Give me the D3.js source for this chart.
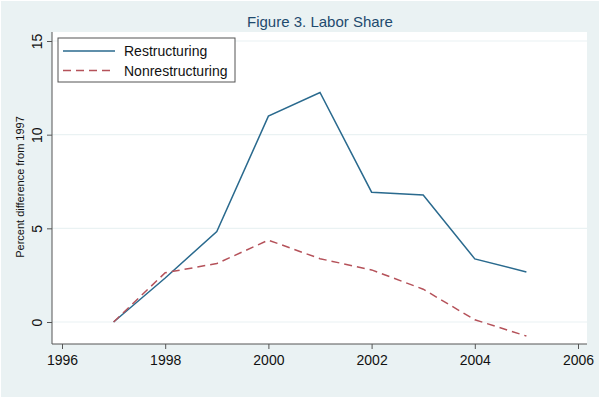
<!DOCTYPE html>
<html>
<head>
<meta charset="utf-8">
<script src="https://cdn.jsdelivr.net/npm/d3@7"></script>
<style>
  body { margin: 0; background: #ffffff; }
  text { font-family: "Liberation Sans", Arial, sans-serif; }
</style>
</head>
<body>
<script>
// data
var years = [1997, 1998, 1999, 2000, 2001, 2002, 2003, 2004, 2005];
var restructuring = [0, 2.35, 4.83, 10.99, 12.25, 6.93, 6.78, 3.37, 2.67];
var nonrestructuring = [0, 2.63, 3.12, 4.37, 3.38, 2.78, 1.75, 0.12, -0.75];
var xTicks = [1996, 1998, 2000, 2002, 2004, 2006];
var yTicks = [0, 5, 10, 15];
var seriesNames = ["Restructuring", "Nonrestructuring"];

var width = 600,
    height = 399;

var svg = d3.select("body")
    .append("svg")
    .attr("width", width)
    .attr("height", height);

// outer graph region
svg.append("rect")
    .attr("x", 1).attr("y", 1)
    .attr("width", width - 2).attr("height", height - 3)
    .attr("fill", "#eaf2f3");

var plot = {left: 52, right: 587, top: 32, bottom: 344};

var x = d3.scaleLinear().domain([1996, 2006]).range([62, 578]);
var y = d3.scaleLinear().domain([0, 15]).range([322, 41]);

// plot region
svg.append("rect")
    .attr("x", plot.left).attr("y", plot.top)
    .attr("width", plot.right - plot.left)
    .attr("height", plot.bottom - plot.top)
    .attr("fill", "#ffffff");

// gridlines
svg.selectAll(".grid")
    .data(yTicks)
    .enter()
    .append("line")
    .attr("class", "grid")
    .attr("x1", plot.left).attr("x2", plot.right)
    .attr("y1", function(d){ return y(d); })
    .attr("y2", function(d){ return y(d); })
    .attr("stroke", "#eaf2f3")
    .attr("stroke-width", 1.2);

// axes
var yAxis = svg.append("g")
    .attr("transform", "translate(" + plot.left + ",0)")
    .call(d3.axisLeft(y).tickValues(yTicks).tickSize(5).tickPadding(7));
yAxis.select(".domain").remove();
yAxis.selectAll(".tick line").attr("stroke", "#555");
yAxis.selectAll(".tick text")
    .attr("transform", "rotate(-90)")
    .attr("x", 0).attr("y", -10)
    .attr("dy", 0)
    .attr("text-anchor", "middle")
    .attr("font-size", 14)
    .attr("fill", "#111");

var xAxis = svg.append("g")
    .attr("transform", "translate(0," + plot.bottom + ")")
    .call(d3.axisBottom(x).tickValues(xTicks).tickFormat(d3.format("d")).tickSize(5).tickPadding(6));
xAxis.select(".domain").remove();
xAxis.selectAll(".tick line").attr("stroke", "#555");
xAxis.selectAll(".tick text")
    .attr("font-size", 14)
    .attr("fill", "#111");

svg.append("line")
    .attr("x1", plot.left).attr("x2", plot.left)
    .attr("y1", plot.top).attr("y2", plot.bottom)
    .attr("stroke", "#555");
svg.append("line")
    .attr("x1", plot.left).attr("x2", plot.right)
    .attr("y1", plot.bottom).attr("y2", plot.bottom)
    .attr("stroke", "#555");

// lines
var line = d3.line()
    .x(function(d){ return x(d[0]); })
    .y(function(d){ return y(d[1]); });

svg.append("path")
    .datum(d3.zip(years, restructuring))
    .attr("d", line)
    .attr("fill", "none")
    .attr("stroke", "#2a6a8e")
    .attr("stroke-width", 1.5);

svg.append("path")
    .datum(d3.zip(years, nonrestructuring))
    .attr("d", line)
    .attr("fill", "none")
    .attr("stroke", "#b5525a")
    .attr("stroke-width", 1.5)
    .attr("stroke-dasharray", "8,5");

// title and axis title
svg.append("text")
    .attr("x", 320).attr("y", 26.5)
    .attr("text-anchor", "middle")
    .attr("font-size", 15)
    .attr("fill", "#1e4a6e")
    .text("Figure 3. Labor Share");

svg.append("text")
    .attr("transform", "translate(24," + ((plot.top + plot.bottom) / 2 - 1) + ") rotate(-90)")
    .attr("text-anchor", "middle")
    .attr("font-size", 11)
    .attr("fill", "#111")
    .text("Percent difference from 1997");

// legend
var legend = svg.append("g");
legend.append("rect")
    .attr("x", 58).attr("y", 38)
    .attr("width", 177).attr("height", 44)
    .attr("fill", "#ffffff")
    .attr("stroke", "#555");

var rows = legend.selectAll(".row")
    .data(seriesNames)
    .enter()
    .append("g")
    .attr("class", "row")
    .attr("transform", function(d, i){ return "translate(0," + (51 + i * 19.5) + ")"; });

rows.append("line")
    .attr("x1", 63).attr("x2", 115)
    .attr("stroke", function(d, i){ return i == 0 ? "#2a6a8e" : "#b5525a"; })
    .attr("stroke-width", 1.5)
    .attr("stroke-dasharray", function(d, i){ return i == 0 ? null : "8,5"; });

rows.append("text")
    .attr("x", 124).attr("y", 5)
    .attr("font-size", 14)
    .attr("fill", "#111")
    .text(function(d){ return d; });
</script>
</body>
</html>
